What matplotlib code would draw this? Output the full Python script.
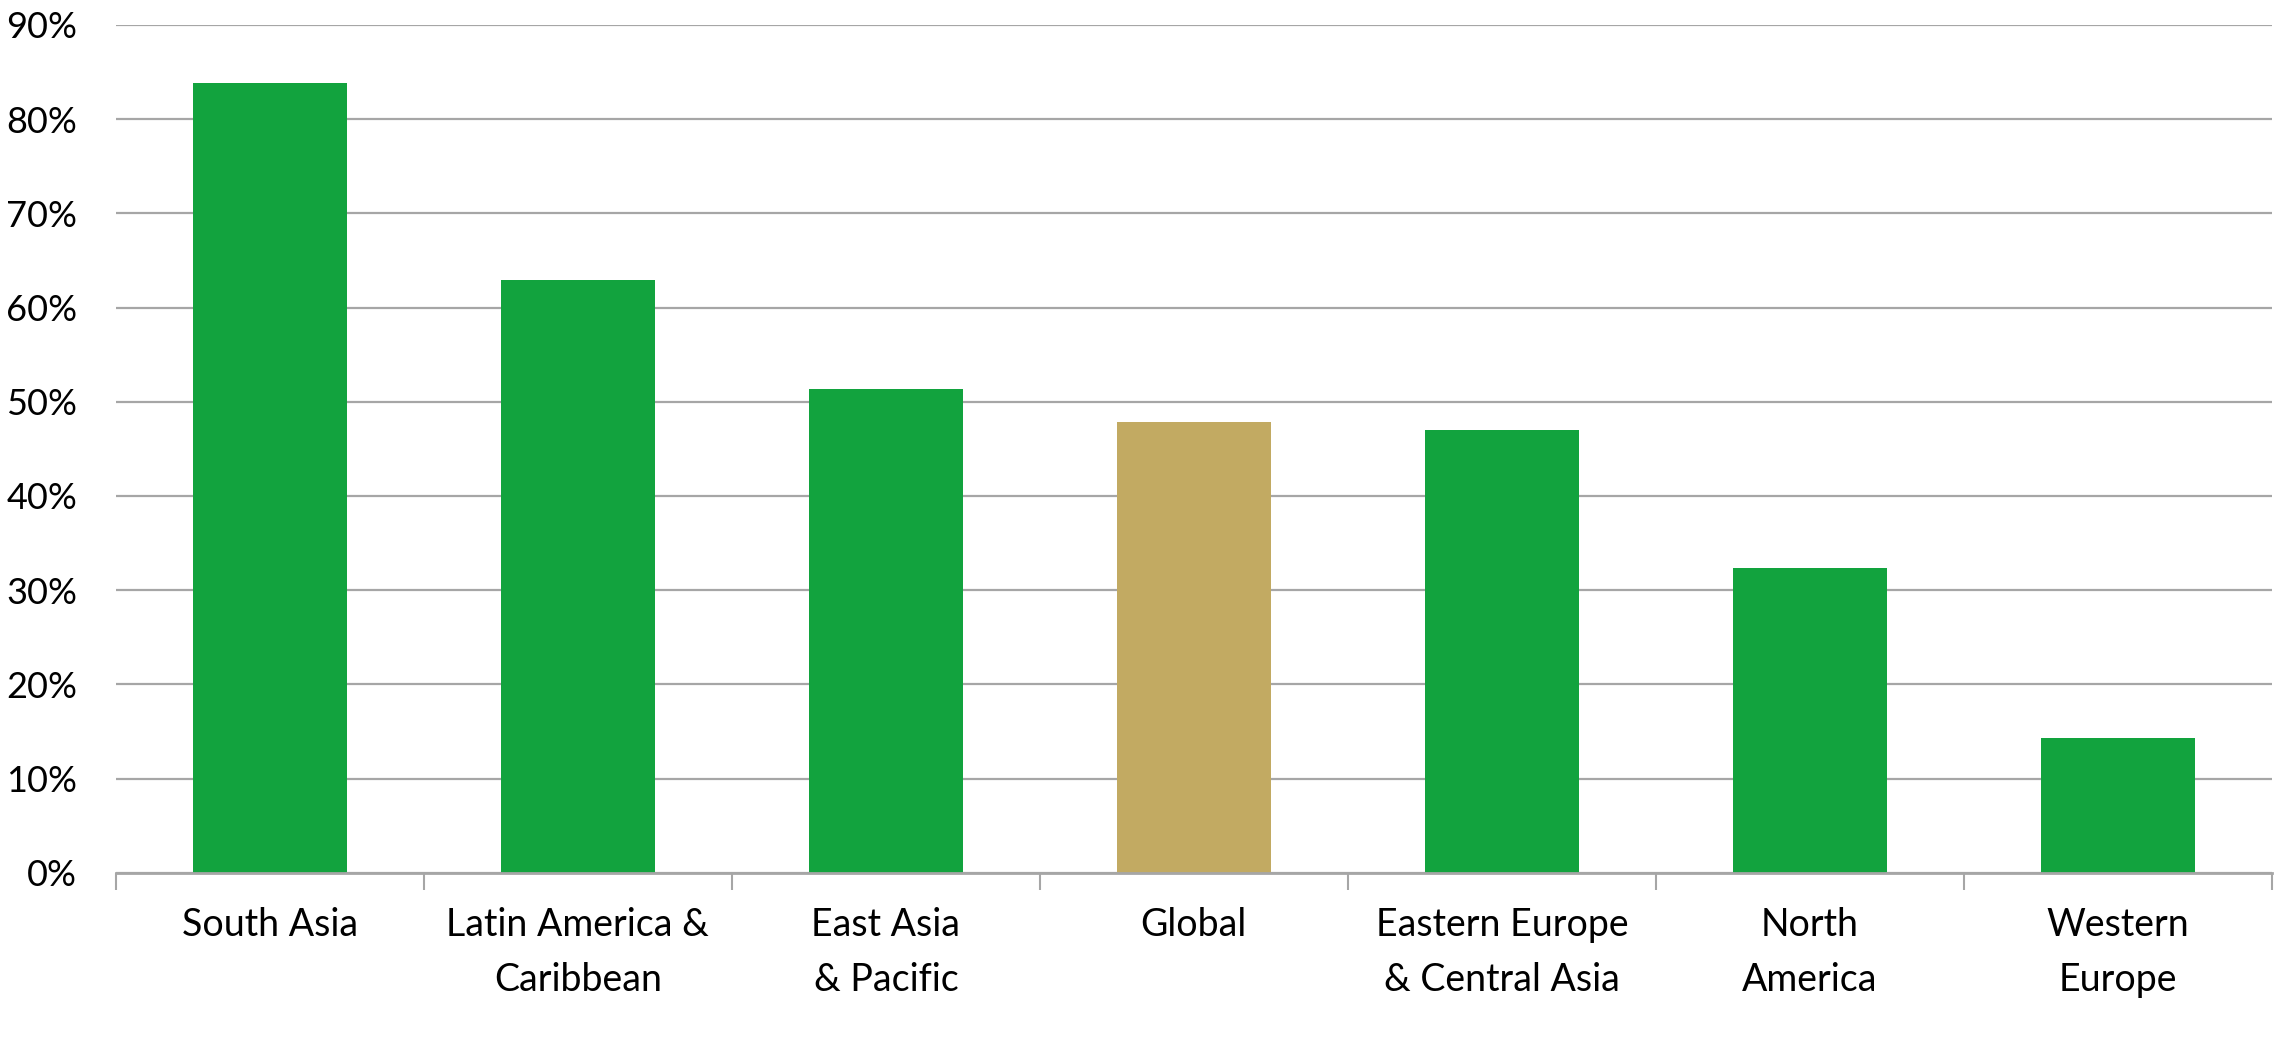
import numpy as np
import matplotlib.pyplot as plt
from matplotlib.ticker import PercentFormatter

plt.rcParams['font.family'] = ['Lato', 'DejaVu Sans']

regions = ["South Asia", "Latin America &\nCaribbean", "East Asia\n& Pacific", "Global",
           "Eastern Europe\n& Central Asia", "North\nAmerica", "Western\nEurope"]
shares = [0.838, 0.629, 0.514, 0.478, 0.470, 0.324, 0.143]
colors = ["#12A33E", "#12A33E", "#12A33E", "#C2AA62", "#12A33E", "#12A33E", "#12A33E"]

fig = plt.figure(figsize=(22.74, 10.39), dpi=100)
ax = fig.add_axes([0.051, 0.160, 0.948, 0.816])

x = np.arange(len(regions))
ax.bar(x, shares, width=0.5, color=colors, zorder=3)

ax.set_xlim(-0.5, len(regions) - 0.5)
ax.set_ylim(0, 0.9)
ax.set_yticks(np.arange(0, 0.91, 0.1))
ax.yaxis.set_major_formatter(PercentFormatter(1.0, decimals=0))
ax.grid(axis="y", color="#A6A6A6", linewidth=1.6, zorder=0)

for s in ["top", "right", "left"]:
    ax.spines[s].set_visible(False)
ax.spines["bottom"].set_color("#A6A6A6")
ax.spines["bottom"].set_linewidth(2)
ax.spines["bottom"].set_zorder(4)

ax.set_xticks(x)
ax.set_xticklabels(regions, linespacing=1.65)
ax.set_xticks(np.arange(-0.5, len(regions)), minor=True)
ax.tick_params(axis="x", which="major", length=0, pad=25, labelsize=27)
ax.tick_params(axis="x", which="minor", length=12, width=1.5, color="#A6A6A6")
ax.tick_params(axis="y", length=0, pad=28, labelsize=26)

fig.savefig("out.png", dpi=100, facecolor="white")
